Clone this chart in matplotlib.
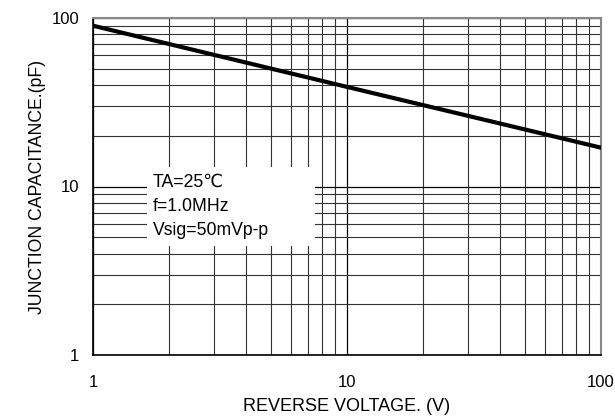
import matplotlib
matplotlib.use("Agg")
import matplotlib.pyplot as plt
from matplotlib.patches import Rectangle

plt.rcParams['font.family'] = ['Liberation Sans', 'DejaVu Sans']

voltage = [1, 10, 100]
capacitance = [90, 39, 17]
x_ticks = [1, 10, 100]
x_ticklabels = ["1", "10", "100"]
y_ticks = [1, 10, 100]
y_ticklabels = ["1", "10", "100"]
notes = ["TA=25\u2103", "f=1.0MHz", "Vsig=50mVp-p"]

fig = plt.figure(figsize=(6.15, 4.16), dpi=100)
ax = fig.add_axes([93/615, 1-355/416, (601-93)/615, (355-18)/416])
ax.set_xscale('log')
ax.set_yscale('log')
ax.set_xlim(1, 100)
ax.set_ylim(1, 100)

ax.grid(True, which='major', color='black', linewidth=0.9)
ax.grid(True, which='minor', color='#333333', linewidth=0.8)
ax.set_axisbelow(True)

ax.set_xticks(x_ticks)
ax.set_xticklabels(x_ticklabels)
ax.set_yticks(y_ticks)
ax.set_yticklabels(y_ticklabels)
ax.tick_params(which='both', length=0)
ax.tick_params(axis='x', pad=14.5, labelsize=12)
ax.tick_params(axis='y', pad=10, labelsize=12)

ax.plot(voltage, capacitance, color='black', linewidth=3, zorder=5)

for s in ['left', 'bottom']:
    ax.spines[s].set_color('black')
    ax.spines[s].set_linewidth(1.2)
for s in ['top', 'right']:
    ax.spines[s].set_color('#888888')
    ax.spines[s].set_linewidth(1.5)

# white box behind notes (axes fraction)
x0 = (147-93)/508; x1 = (315-93)/508
y0 = (355-246)/337; y1 = (355-167)/337
ax.add_patch(Rectangle((x0, y0), x1-x0, y1-y0, transform=ax.transAxes,
                       facecolor='white', edgecolor='none', zorder=3))
for i, t in enumerate(notes):
    ybase = 187 + 24*i
    ax.text((153-93)/508, (355-ybase)/337, t, transform=ax.transAxes,
            fontsize=12.7, va='baseline', ha='left', zorder=4)

ax.set_xlabel("REVERSE VOLTAGE. (V)", fontsize=13, labelpad=6)
ax.set_ylabel("JUNCTION CAPACITANCE.(pF)", fontsize=12.7, labelpad=4)

fig.savefig("out.png", dpi=100)
